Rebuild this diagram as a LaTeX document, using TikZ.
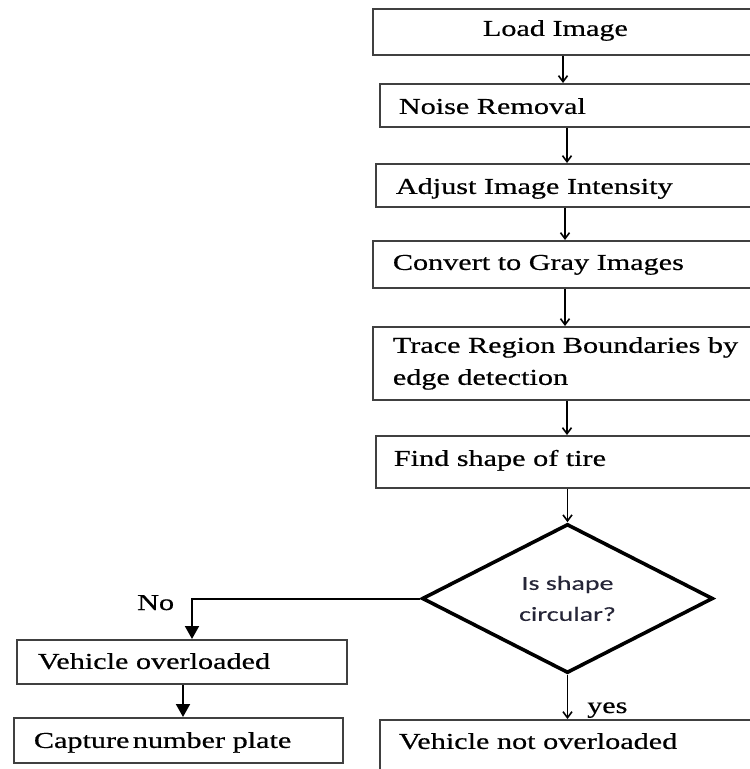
\documentclass[tikz,border=0pt]{standalone}
\usepackage{fontspec}
\setmainfont{Liberation Serif}[FakeStretch=1.33,FakeBold=0.6]
\newfontfamily\dsans{Carlito}[FakeStretch=1.4,FakeBold=0.3]
\usetikzlibrary{shapes.geometric,arrows.meta}
\definecolor{boxline}{rgb}{0.25,0.25,0.25}
\definecolor{dtext}{rgb}{0.15,0.15,0.22}
\tikzset{
  box/.style={draw=boxline, line width=1.8pt, anchor=north west, inner ysep=0pt,
    align=left, font=\fontsize{22.7}{32}\selectfont},
  decision/.style={draw=black, line width=3.6pt, diamond, aspect=2, inner sep=0pt,
    minimum width=291pt, minimum height=149pt, align=center,
    font=\dsans\fontsize{20}{31}\selectfont, text=dtext},
  thinarr/.style={draw=black, line width=1.6pt, -{Straight Barb[length=6pt,width=9pt]}},
  fatarr/.style={draw=black, line width=2pt, -{Triangle[length=13pt,width=14pt]}},
  lbl/.style={anchor=base west, inner sep=0pt, font=\fontsize{22.7}{32}\selectfont}
}
\begin{document}
\begin{tikzpicture}[x=1pt,y=-1pt]
\useasboundingbox (0,0) rectangle (750,769);
\clip (0,0) rectangle (750,769);

% right column boxes (right edge lies outside the picture)
\node[box, inner xsep=110pt, text width=208pt, text height=27pt, text depth=19pt] (load) at (372,8) {Load Image};
\node[box, inner xsep=19pt, text width=383pt, text height=30pt, text depth=13pt] (noise) at (379,83) {Noise Removal};
\node[box, inner xsep=20pt, text width=385pt, text height=30pt, text depth=13pt] (adjust) at (375,163) {Adjust Image Intensity};
\node[box, inner xsep=20pt, text width=388pt, text height=29pt, text depth=18pt] (convert) at (372,240) {Convert to Gray Images};
\node[box, inner xsep=20pt, text width=388pt, minimum height=73pt] (trace) at (372,326) {Trace Region Boundaries by\\edge detection};
\node[box, inner xsep=18pt, text width=389pt, text height=30pt, text depth=22pt] (find) at (375,435) {Find shape of tire};

\node[decision] (dec) at (567.5,598.5) {Is shape\\circular?};

\node[box, inner xsep=21pt, text width=288pt, text height=29pt, text depth=15pt] (vo) at (16,639) {Vehicle overloaded};
\node[box, inner xsep=20pt, text width=289pt, text height=30pt, text depth=15pt] (cap) at (13,717) {Capture\hspace{0.15em}number plate};
\node[box, inner xsep=19pt, text width=383pt, text height=29pt, text depth=50pt] (notover) at (379,719) {Vehicle not overloaded};

\node[lbl] (no) at (137,610) {No};
\node[lbl] (yes) at (587,713) {yes};

% x positions of the connectors
\coordinate (x1) at (563,0);
\coordinate (x2) at (567,0);
\coordinate (x3) at (565,0);
\coordinate (x4) at (565,0);
\coordinate (x5) at (567,0);
\coordinate (xno) at (192,0);
\coordinate (xvo) at (183,0);

\draw[thinarr] (load.south -| x1) -- (noise.north -| x1);
\draw[thinarr] (noise.south -| x2) -- (adjust.north -| x2);
\draw[thinarr] (adjust.south -| x3) -- (convert.north -| x3);
\draw[thinarr] (convert.south -| x4) -- (trace.north -| x4);
\draw[thinarr] (trace.south -| x5) -- (find.north -| x5);
\draw[thinarr] (find.south -| dec.north) -- (dec.north);
\draw[thinarr] (dec.south) -- (notover.north -| dec.south);
\draw[fatarr] (dec.west) -| (vo.north -| xno);
\draw[fatarr] (vo.south -| xvo) -- (cap.north -| xvo);
\end{tikzpicture}
\end{document}
